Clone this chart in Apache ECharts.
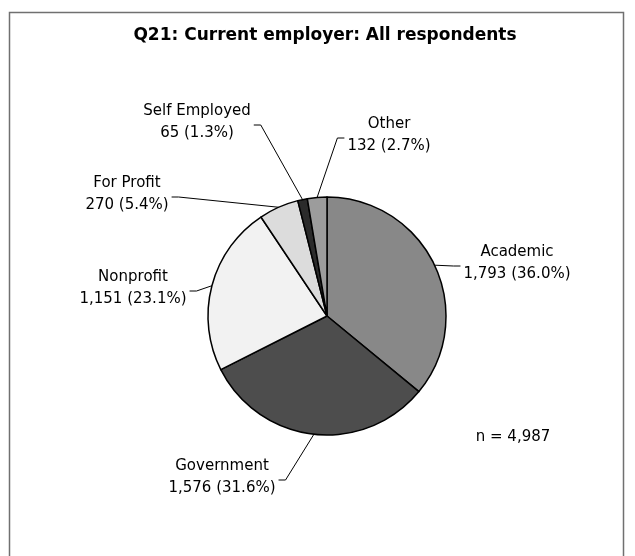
<!DOCTYPE html>
<html>
<head>
<meta charset="utf-8">
<script src="https://cdn.jsdelivr.net/npm/echarts@6/dist/echarts.min.js"></script>
<style>
  html, body { margin: 0; padding: 0; background: #fff; }
  #chart { width: 635px; height: 556px; }
</style>
</head>
<body>
<div id="chart"></div>
<script>
const categories = ['Academic', 'Government', 'Nonprofit', 'For Profit', 'Self Employed', 'Other'];
const counts = [1793, 1576, 1151, 270, 65, 132];
const percents = [36.0, 31.6, 23.1, 5.4, 1.3, 2.7];
const sliceColors = ['#888888', '#4d4d4d', '#f2f2f2', '#dcdcdc', '#2b2b2b', '#9c9c9c'];
const titleText = 'Q21: Current employer: All respondents';
const totalText = 'n = 4,987';

// where each label block sits (centre of the two-line text), and which side the leader attaches
const labelSpots = [
    { x: 517, y: 263, side: 'left' },
    { x: 222, y: 477, side: 'right' },
    { x: 133, y: 288, side: 'right' },
    { x: 127, y: 194, side: 'right' },
    { x: 197, y: 122, side: 'right' },
    { x: 389, y: 135, side: 'left' }
];

const labelFont = 'DejaVu Sans, Liberation Sans, Arial, sans-serif';

const chart = echarts.init(document.getElementById('chart'));

const option = {
    backgroundColor: '#fff',
    animation: false,
    graphic: [
        {
            type: 'rect',
            shape: { x: 9.5, y: 12.5, width: 614, height: 560 },
            style: { fill: 'none', stroke: '#707070', lineWidth: 1.5 },
            silent: true
        },
        {
            type: 'text',
            x: 325, y: 36,
            style: {
                text: titleText, textAlign: 'center', textVerticalAlign: 'middle',
                font: 'bold 17px "DejaVu Sans", Arial, sans-serif', fill: '#000'
            }
        },
        {
            type: 'text',
            x: 513, y: 437,
            style: {
                text: totalText, textAlign: 'center', textVerticalAlign: 'middle',
                font: '15px "DejaVu Sans", Arial, sans-serif', fill: '#000'
            }
        }
    ],
    series: [{
        type: 'pie',
        center: [327, 316],
        radius: 119,
        startAngle: 90,
        clockwise: true,
        avoidLabelOverlap: false,
        itemStyle: { borderColor: '#000', borderWidth: 1.5 },
        label: {
            show: true,
            position: 'outside',
            fontFamily: labelFont,
            fontSize: 15,
            lineHeight: 22,
            color: '#000',
            align: 'center',
            formatter: p => p.name + '\n' + counts[p.dataIndex].toLocaleString('en-US') + ' (' + percents[p.dataIndex].toFixed(1) + '%)'
        },
        labelLine: {
            show: true,
            length: 10,
            length2: 10,
            lineStyle: { color: '#000', width: 1 }
        },
        labelLayout: params => {
            const spot = labelSpots[params.dataIndex];
            const w = params.labelRect.width;
            const edge = params.labelLinePoints ? params.labelLinePoints[0] : [spot.x, spot.y];
            const endX = spot.side === 'left' ? spot.x - w / 2 - 3 : spot.x + w / 2 + 3;
            const stubX = spot.side === 'left' ? endX - 7 : endX + 7;
            return {
                x: spot.x,
                y: spot.y,
                align: 'center',
                verticalAlign: 'middle',
                labelLinePoints: [edge, [stubX, spot.y + 3], [endX, spot.y + 3]]
            };
        },
        emphasis: { disabled: true },
        data: categories.map((name, i) => ({
            name: name,
            value: counts[i],
            itemStyle: { color: sliceColors[i] }
        }))
    }]
};

chart.setOption(option);
</script>
</body>
</html>
